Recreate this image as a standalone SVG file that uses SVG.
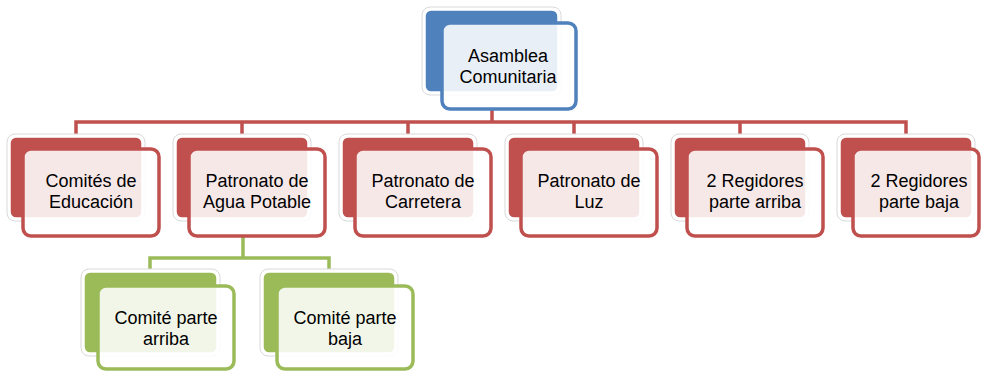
<svg xmlns="http://www.w3.org/2000/svg" width="982" height="372" viewBox="0 0 982 372">
<style>
.halo{fill:#fff;stroke:#d9d9d9;stroke-width:1}
.bk{stroke:#fff;stroke-width:1.5}
.fr{fill:#fff;fill-opacity:0.87;stroke-width:3.5}
.red .bk{fill:#C0504D}.red .fr{stroke:#C0504D}
.blue .bk{fill:#4F81BD}.blue .fr{stroke:#4F81BD}
.green .bk{fill:#9BBB59}.green .fr{stroke:#9BBB59}
text{font-family:"Liberation Sans",Arial,sans-serif;font-size:18px;fill:#000;text-anchor:middle}
.cw{fill:none;stroke:#fff;stroke-width:6}
.cr{fill:none;stroke:#C0504D;stroke-width:3.5}
.cg{fill:none;stroke:#9BBB59;stroke-width:3.5}
</style>
<rect width="982" height="372" fill="#fff"/>
<g id="connectors">
<path class="cw" d="M492 108V122M76 137V122H906V137M242 122V137M408 122V137M574 122V137M740 122V137"/>
<path class="cr" d="M492 108V122M76 137V122H906V137M242 122V137M408 122V137M574 122V137M740 122V137"/>
<path class="cw" d="M243 236V258M150 272V258H329V272"/>
<path class="cg" d="M243 236V258M150 272V258H329V272"/>
</g>
<g id="n0" class="blue">
<rect class="halo" x="422" y="7" width="139" height="88" rx="8"/>
<rect class="bk" x="425" y="10" width="133" height="82" rx="6"/>
<rect class="fr" x="442" y="23" width="134" height="86" rx="8"/>
<text x="508" y="62">Asamblea</text><text x="508" y="83">Comunitaria</text>
</g>
<g id="n1" class="red">
<rect class="halo" x="7" y="134" width="138" height="87" rx="8"/>
<rect class="bk" x="10" y="137" width="132" height="81" rx="6"/>
<rect class="fr" x="23" y="149" width="136" height="87" rx="8"/>
<text x="91" y="187">Comités de</text><text x="91" y="208">Educación</text>
</g>
<g id="n2" class="red">
<rect class="halo" x="173" y="134" width="138" height="87" rx="8"/>
<rect class="bk" x="176" y="137" width="132" height="81" rx="6"/>
<rect class="fr" x="189" y="149" width="136" height="87" rx="8"/>
<text x="257" y="187">Patronato de</text><text x="257" y="208">Agua Potable</text>
</g>
<g id="n3" class="red">
<rect class="halo" x="339" y="134" width="138" height="87" rx="8"/>
<rect class="bk" x="342" y="137" width="132" height="81" rx="6"/>
<rect class="fr" x="355" y="149" width="136" height="87" rx="8"/>
<text x="423" y="187">Patronato de</text><text x="423" y="208">Carretera</text>
</g>
<g id="n4" class="red">
<rect class="halo" x="505" y="134" width="138" height="87" rx="8"/>
<rect class="bk" x="508" y="137" width="132" height="81" rx="6"/>
<rect class="fr" x="521" y="149" width="136" height="87" rx="8"/>
<text x="589" y="187">Patronato de</text><text x="589" y="208">Luz</text>
</g>
<g id="n5" class="red">
<rect class="halo" x="671" y="134" width="138" height="87" rx="8"/>
<rect class="bk" x="674" y="137" width="132" height="81" rx="6"/>
<rect class="fr" x="687" y="149" width="136" height="87" rx="8"/>
<text x="755" y="187">2 Regidores</text><text x="755" y="208">parte arriba</text>
</g>
<g id="n6" class="red">
<rect class="halo" x="837" y="134" width="138" height="87" rx="8"/>
<rect class="bk" x="840" y="137" width="132" height="81" rx="6"/>
<rect class="fr" x="853" y="149" width="126" height="87" rx="8"/>
<text x="919" y="187">2 Regidores</text><text x="919" y="208">parte baja</text>
</g>
<g id="n7" class="green">
<rect class="halo" x="81" y="269" width="139" height="87" rx="8"/>
<rect class="bk" x="84" y="272" width="133" height="81" rx="6"/>
<rect class="fr" x="98" y="286" width="136" height="83" rx="8"/>
<text x="166" y="324">Comité parte</text><text x="166" y="345">arriba</text>
</g>
<g id="n8" class="green">
<rect class="halo" x="260" y="269" width="138" height="87" rx="8"/>
<rect class="bk" x="263" y="272" width="132" height="81" rx="6"/>
<rect class="fr" x="277" y="286" width="136" height="83" rx="8"/>
<text x="345" y="324">Comité parte</text><text x="345" y="345">baja</text>
</g>
</svg>
